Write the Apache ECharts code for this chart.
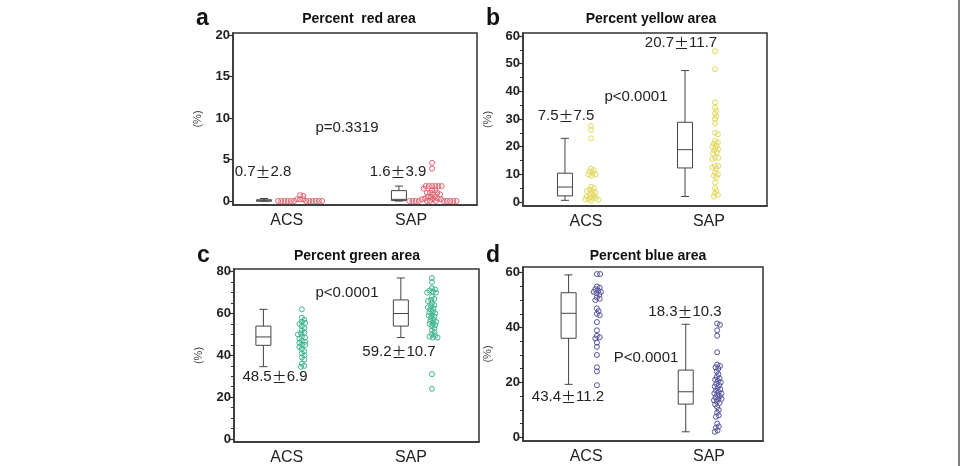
<!DOCTYPE html>
<html>
<head>
<meta charset="utf-8">
<script src="https://cdn.jsdelivr.net/npm/echarts@6/dist/echarts.min.js"></script>
<style>
  html, body { margin: 0; background: #fff; }
  #chart { width: 961px; height: 466px; }
</style>
</head>
<body>
<div id="chart"></div>
<script>
// groups on the x axis
const groups = ['ACS', 'SAP'];

// box stats: [min, q1, median, q3, max]
const redBoxACS = [0, 0, 0, 0.15, 0.3];
const redBoxSAP = [0, 0.05, 0.2, 1.25, 1.8];
const yellowBoxACS = [0.6, 2.2, 5.4, 10.4, 23];
const yellowBoxSAP = [2, 12.3, 18.9, 28.8, 47.5];
const greenBoxACS = [34.6, 44.8, 48.8, 54, 62];
const greenBoxSAP = [48.5, 54, 60, 66.5, 77];
const blueBoxACS = [19.3, 36.1, 45.2, 52.7, 59.2];
const blueBoxSAP = [2, 12.1, 16.6, 24.5, 41.2];

// individual cases (%)
const redDotsACS = [0.7, 0.6, 0.2, 0.2, 0.2, 0, 0, 0, 0, 0, 0, 0, 0, 0, 0, 0, 0];
const redDotsSAP = [4.6, 3.9, 1.8, 1.8, 1.8, 1.8, 1.8, 1.8, 1.5, 1.3, 1.3, 1.0, 1.0, 1.0, 0.8, 0.8,
  0.5, 0.5, 0.5, 0.3, 0.3, 0.2, 0.2, 0.2, 0, 0, 0, 0, 0, 0, 0, 0, 0, 0, 0, 0];
const yellowDotsACS = [27.5, 26, 23, 12, 11.5, 11, 10.5, 10, 10, 9.5, 5.5, 5, 4.5, 4, 4, 3.5, 3, 2.5,
  2, 2, 1.5, 1.5, 1, 1, 0.8, 0.5];
const yellowDotsSAP = [54.5, 48, 36, 34, 33, 32, 31, 30, 28.5, 25, 24.5, 22, 21.5, 21, 20.5, 20, 19.5,
  19, 18.5, 18, 17.5, 16, 16, 15.5, 13, 13, 12.5, 12, 10.5, 10, 9.5, 9, 7, 5, 4, 3, 2.5, 2];
const greenDotsACS = [62, 58, 57, 56, 55.5, 55, 54, 53, 52, 51, 50.5, 50, 49, 48.5, 48, 47, 46.5, 46,
  45, 45, 44, 43, 42, 41, 40, 39, 38, 36, 35, 34.5];
const greenDotsSAP = [77, 75, 72, 71.5, 71, 70.5, 70, 70, 68, 67, 66.5, 66, 65, 64, 63.5, 63, 62.5, 62,
  61, 60.5, 60, 59.5, 59, 58.5, 58, 57, 56.5, 56, 55.5, 55, 54.5, 54, 53, 52, 51, 50, 49.5, 49, 48.5,
  48.5, 31, 24];
const blueDotsACS = [59.5, 59.5, 55, 54.5, 54, 53.5, 53, 53, 52.5, 52, 51, 50.5, 50, 47, 46, 45, 44.5,
  42, 39, 37, 36.5, 36, 34.5, 33, 30, 25.5, 24, 19];
const blueDotsSAP = [41.5, 41, 39, 37, 31, 26.5, 26, 25.5, 25, 24, 23, 22, 21.5, 21, 20.5, 20, 19.5,
  19, 18.5, 18, 17.5, 17, 16.5, 16, 16, 15.5, 15, 14.5, 14, 14, 13.5, 13, 12.5, 12, 11, 10, 9, 8, 7.5,
  5, 4, 3.5, 2.5, 2];

// y tick labels and minor ticks
const ticksA = [0, 5, 10, 15, 20];
const minorA = [];
const ticksB = [0, 10, 20, 30, 40, 50, 60];
const minorB = [5, 15, 25, 35, 45, 55];
const ticksC = [0, 20, 40, 60, 80];
const minorC = [5, 10, 15, 25, 30, 35, 45, 50, 55, 65, 70, 75];
const ticksD = [0, 20, 40, 60];
const minorD = [5, 10, 15, 25, 30, 35, 45, 50, 55];

// annotation texts ({pm|..} is the wide plus-minus sign)
const notesA = ['0.7{pm|\u00b1}2.8', '1.6{pm|\u00b1}3.9', 'p=0.3319'];
const notesB = ['7.5{pm|\u00b1}7.5', '20.7{pm|\u00b1}11.7', 'p<0.0001'];
const notesC = ['p<0.0001', '48.5{pm|\u00b1}6.9', '59.2{pm|\u00b1}10.7'];
const notesD = ['18.3{pm|\u00b1}10.3', 'P<0.0001', '43.4{pm|\u00b1}11.2'];

const FONT = 'Arial, "Liberation Sans", sans-serif';
const W = 961;

const panels = [
  { letter: 'a', title: 'Percent  red area', color: '#e0606e',
    grid: { left: 233, top: 33, width: 244, height: 172 }, yMin: -0.48, yMax: 20.24,
    ticks: ticksA, minor: minorA, boxX: [12.7, 68], dotX: [27.5, 81.6], labelX: [22, 73],
    boxes: [redBoxACS, redBoxSAP], dots: [redDotsACS, redDotsSAP],
    titleXY: [359, 19], letterXY: [196, 30],
    notes: notesA, notePos: [[263, 172], [398, 172], [347, 128]] },
  { letter: 'b', title: 'Percent yellow area', color: '#e3d95e',
    grid: { left: 523, top: 33, width: 244, height: 173 }, yMin: -1.45, yMax: 61.08,
    ticks: ticksB, minor: minorB, boxX: [17.2, 66.4], dotX: [27.9, 78.7], labelX: [25.8, 76.2],
    boxes: [yellowBoxACS, yellowBoxSAP], dots: [yellowDotsACS, yellowDotsSAP],
    titleXY: [651, 19], letterXY: [486, 30],
    notes: notesB, notePos: [[566, 116], [681, 43], [636, 97]] },
  { letter: 'c', title: 'Percent green area', color: '#3db68c',
    grid: { left: 234, top: 269, width: 245, height: 173 }, yMin: -1.43, yMax: 81.29,
    ticks: ticksC, minor: minorC, boxX: [12, 68.1], dotX: [27.7, 80.8], labelX: [21.5, 72.2],
    boxes: [greenBoxACS, greenBoxSAP], dots: [greenDotsACS, greenDotsSAP],
    titleXY: [357, 256], letterXY: [197, 267],
    notes: notesC, notePos: [[347, 293], [275, 377], [399, 352]] },
  { letter: 'd', title: 'Percent blue area', color: '#55559c',
    grid: { left: 523, top: 267, width: 240, height: 174 }, yMin: -1.35, yMax: 62.08,
    ticks: ticksD, minor: minorD, boxX: [19, 67.8], dotX: [30.8, 80.9], labelX: [26.3, 77.5],
    boxes: [blueBoxACS, blueBoxSAP], dots: [blueDotsACS, blueDotsSAP],
    titleXY: [648, 256], letterXY: [486, 267],
    notes: notesD, notePos: [[685, 312], [646, 358], [568, 397]] }
];

// simple beeswarm: spread equal-ish values sideways so circles don't stack
function swarm(values, cx, pxX, pxY) {
  const dist = 3, step = 0.4;
  const placed = [];
  const out = [];
  values.slice().sort((p, q) => q - p).forEach(v => {
    const py = v * pxY;
    let k = 0, off = 0;
    while (true) {
      off = k === 0 ? 0 : Math.ceil(k / 2) * (k % 2 ? 1 : -1) * step;
      if (!placed.some(p => (p[0] - off) ** 2 + (p[1] - py) ** 2 < dist * dist)) break;
      k++;
    }
    placed.push([off, py]);
    out.push([cx + off / pxX, v]);
  });
  return out;
}

function renderBox(params, api) {
  const x = api.coord([api.value(0), 0])[0];
  const y = v => api.coord([0, v])[1];
  const bw = 15, cw = 8;
  const st = { stroke: '#444', lineWidth: 1, fill: null };
  const yMin = y(api.value(1)), yQ1 = y(api.value(2)), yMed = y(api.value(3));
  const yQ3 = y(api.value(4)), yMax = y(api.value(5));
  return {
    type: 'group',
    children: [
      { type: 'line', shape: { x1: x, y1: yQ3, x2: x, y2: yMax }, style: st },
      { type: 'line', shape: { x1: x, y1: yQ1, x2: x, y2: yMin }, style: st },
      { type: 'line', shape: { x1: x - cw / 2, y1: yMax, x2: x + cw / 2, y2: yMax }, style: st },
      { type: 'line', shape: { x1: x - cw / 2, y1: yMin, x2: x + cw / 2, y2: yMin }, style: st },
      { type: 'rect', shape: { x: x - bw / 2, y: yQ3, width: bw, height: yQ1 - yQ3 }, style: st },
      { type: 'line', shape: { x1: x - bw / 2, y1: yMed, x2: x + bw / 2, y2: yMed }, style: st }
    ]
  };
}

const grid = [], xAxis = [], yAxis = [], series = [], graphic = [];
const axisCol = '#333';

panels.forEach((p, i) => {
  grid.push(Object.assign({ show: true, borderColor: axisCol, borderWidth: 1.5 }, p.grid));
  xAxis.push({
    gridIndex: i, type: 'value', min: 0, max: 100, position: 'bottom',
    axisLine: { show: true, onZero: false, lineStyle: { color: axisCol, width: 1.5 } },
    axisTick: { show: false }, splitLine: { show: false },
    axisLabel: {
      customValues: p.labelX, margin: 8, fontSize: 16, color: '#222', fontFamily: FONT,
      formatter: v => {
        let best = 0;
        p.labelX.forEach((lx, j) => { if (Math.abs(lx - v) < Math.abs(p.labelX[best] - v)) best = j; });
        return groups[best];
      }
    }
  });
  yAxis.push({
    gridIndex: i, type: 'value', min: p.yMin, max: p.yMax, position: 'left',
    axisLine: { show: true, onZero: false, lineStyle: { color: axisCol, width: 1.5 } },
    axisTick: { show: true, customValues: p.ticks, length: 5, lineStyle: { color: axisCol, width: 1.2 } },
    axisLabel: { customValues: p.ticks, margin: 3, fontSize: 13, fontWeight: 'bold', color: '#222', fontFamily: FONT },
    splitLine: { show: false },
    name: '(%)', nameLocation: 'middle', nameRotate: 90, nameGap: 30,
    nameTextStyle: { fontSize: 11, color: '#444', fontFamily: FONT }
  });
  yAxis.push({
    gridIndex: i, type: 'value', min: p.yMin, max: p.yMax, position: 'left',
    axisLine: { show: false, onZero: false },
    axisTick: { show: p.minor.length > 0, customValues: p.minor, length: 3, lineStyle: { color: axisCol, width: 1 } },
    axisLabel: { show: false }, splitLine: { show: false }
  });

  const pxX = p.grid.width / 100;
  const pxY = p.grid.height / (p.yMax - p.yMin);

  series.push({
    type: 'custom', xAxisIndex: i, yAxisIndex: i * 2, silent: true,
    renderItem: renderBox,
    data: p.boxes.map((b, j) => [p.boxX[j]].concat(b))
  });
  series.push({
    type: 'scatter', xAxisIndex: i, yAxisIndex: i * 2, silent: true,
    symbol: 'circle', symbolSize: 5,
    itemStyle: { color: 'rgba(0,0,0,0)', borderColor: p.color, borderWidth: 1, opacity: 1 },
    data: p.dots.reduce((acc, d, j) => acc.concat(swarm(d, p.dotX[j], pxX, pxY)), [])
  });

  graphic.push({
    type: 'text', x: p.titleXY[0], y: p.titleXY[1], silent: true,
    style: { text: p.title, fill: '#111', font: 'bold 14px ' + FONT, align: 'center', verticalAlign: 'middle' }
  });
  graphic.push({
    type: 'text', x: p.letterXY[0], y: p.letterXY[1], silent: true,
    style: { text: p.letter, fill: '#111', font: 'bold 23px ' + FONT, align: 'left', verticalAlign: 'bottom' }
  });
  p.notes.forEach((t, j) => {
    graphic.push({
      type: 'text', x: p.notePos[j][0], y: p.notePos[j][1], silent: true,
      style: {
        text: t, fill: '#222', font: '15px ' + FONT, align: 'center', verticalAlign: 'middle',
        rich: { pm: { fontFamily: '"Noto Sans CJK SC", sans-serif', fontSize: 15, fill: '#222' } }
      }
    });
  });
});

// page border line at the right edge
graphic.push({
  type: 'line', silent: true,
  shape: { x1: W - 2, y1: 0, x2: W - 2, y2: 466 },
  style: { stroke: '#555', lineWidth: 1.5 }
});

const chart = echarts.init(document.getElementById('chart'), null, { renderer: 'canvas' });
chart.setOption({
  animation: false,
  backgroundColor: '#fff',
  grid: grid,
  xAxis: xAxis,
  yAxis: yAxis,
  series: series,
  graphic: graphic
});
</script>
</body>
</html>
